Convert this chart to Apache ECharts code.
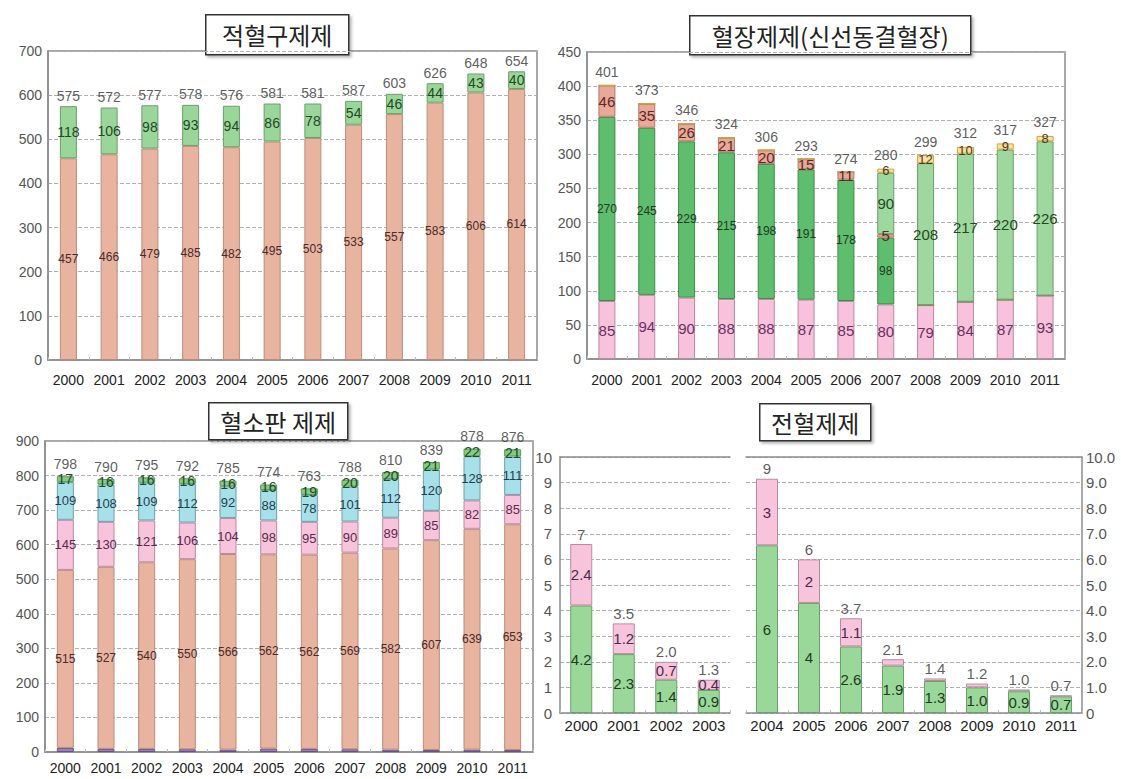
<!DOCTYPE html>
<html><head><meta charset="utf-8">
<script src="https://cdn.jsdelivr.net/npm/echarts@6/dist/echarts.min.js"></script>
<style>html,body{margin:0;padding:0;background:#fff}#c{width:1121px;height:779px}</style>
</head><body><div id="c"></div>
<script>
// ---------- DATA ----------
const years = ['2000','2001','2002','2003','2004','2005','2006','2007','2008','2009','2010','2011'];

// 적혈구제제
const rbcLower = [457,466,479,485,482,495,503,533,557,583,606,614];
const rbcUpper = [118,106,98,93,94,86,78,54,46,44,43,40];
const rbcTotals = ['575','572','577','578','576','581','581','587','603','626','648','654'];

// 혈장제제(신선동결혈장)
const ffpPink   = [85,94,90,88,88,87,85,80,79,84,87,93];
const ffpDark   = [270,245,229,215,198,191,178,98,0,0,0,0];
const ffpSalmon = [46,35,26,21,20,15,11,5,0,0,0,0];
const ffpLight  = [0,0,0,0,0,0,0,90,208,217,220,226];
const ffpYellow = [0,0,0,0,0,0,0,6,12,10,9,8];
const ffpTotals = ['401','373','346','324','306','293','274','280','299','312','317','327'];

// 혈소판 제제
const pltPurple = [12,9,9,8,7,10,9,8,7,6,7,6];
const pltSalmon = [515,527,540,550,566,562,562,569,582,607,639,653];
const pltPink   = [145,130,121,106,104,98,95,90,89,85,82,85];
const pltCyan   = [109,108,109,112,92,88,78,101,112,120,128,111];
const pltGreen  = [17,16,16,16,16,16,19,20,20,21,22,21];
const pltTotals = ['798','790','795','792','785','774','763','788','810','839','878','876'];

// 전혈제제
const wbGreen = [4.2,2.3,1.3,0.9,6.55,4.3,2.6,1.85,1.25,1.0,0.85,0.65];
const wbPink  = [2.4,1.2,0.7,0.4,2.6,1.7,1.1,0.25,0.1,0.15,0.07,0.03];
const wbGreenLabels = ['4.2','2.3','1.4','0.9','6','4','2.6','1.9','1.3','1.0','0.9','0.7'];
const wbPinkLabels  = ['2.4','1.2','0.7','0.4','3','2','1.1','','','','',''];
const wbTotals = ['7','3.5','2.0','1.3','9','6','3.7','2.1','1.4','1.2','1.0','0.7'];
const wbSplit = 4;

// ---------- CHART ----------
const FONT = 'Liberation Sans, Arial, sans-serif';
const NARROW = 'Liberation Sans Narrow, Liberation Sans, Arial, sans-serif';
const KR = 'Noto Sans CJK KR, sans-serif';
const chart = echarts.init(document.getElementById('c'), null, {renderer:'svg'});

function sumAt(arrs, i){ return arrs.reduce((s,a)=>s+a[i],0); }

function bar(name, data, xi, stack, color, border, lab, bw){
  return {
    type:'bar', name, data, xAxisIndex:xi, yAxisIndex:xi, stack, barWidth:bw||17,
    itemStyle:{color, borderColor:border, borderWidth:1},
    label: lab ? {
      show:true, position:'inside', fontFamily: lab.family||FONT,
      fontSize: lab.size, color: lab.color,
      formatter: p => lab.texts ? lab.texts[p.dataIndex] : (p.value ? String(p.value) : '')
    } : {show:false},
    emphasis:{disabled:true}, silent:true, animation:false
  };
}
function totals(arrs, labels, xi, size, dist){
  return {
    type:'scatter', xAxisIndex:xi, yAxisIndex:xi, symbolSize:1,
    itemStyle:{color:'rgba(0,0,0,0)'},
    data: arrs[0].map((_,i)=>sumAt(arrs,i)),
    label:{show:true, position:'top', distance:dist||3, fontFamily:FONT, fontSize:size||14, color:'#333',
      formatter:p=>labels[p.dataIndex]},
    silent:true, animation:false, z:5
  };
}

const gridLine = {show:true, lineStyle:{type:'dashed', color:'#b0b0b0', width:1}};
function yAx(gi, max, interval, extra){
  return Object.assign({
    type:'value', gridIndex:gi, min:0, max, interval,
    axisLine:{show:true, lineStyle:{color:'#8c8c8c', width:1.5}},
    axisTick:{show:false},
    axisLabel:{fontFamily:FONT, fontSize:14, color:'#555', margin:6},
    splitLine:gridLine
  }, extra||{});
}
function xAx(gi, data, margin, extra){
  return Object.assign({
    type:'category', gridIndex:gi, data,
    axisLine:{show:true, lineStyle:{color:'#8c8c8c', width:1.5}},
    axisTick:{show:true, inside:true, length:3, lineStyle:{color:'#bbb'}},
    axisLabel:{fontFamily:FONT, fontSize:14, color:'#222', margin, interval:0},
    splitLine:{show:false}
  }, extra||{});
}
function topLine(gi, n){
  return {type:'category', gridIndex:gi, position:'top', data:new Array(n).fill(''),
    axisLine:{show:true, lineStyle:{color:'#8c8c8c', width:1.5}},
    axisTick:{show:false}, axisLabel:{show:false}, splitLine:{show:false}};
}

const yrsL = years.slice(0, wbSplit), yrsR = years.slice(wbSplit);
const gL = wbGreen.slice(0,wbSplit), gR = wbGreen.slice(wbSplit);
const pL = wbPink.slice(0,wbSplit), pR = wbPink.slice(wbSplit);

function titleBox(x, y, w, h, text){
  return {type:'group', left:x, top:y, z:100, children:[
    {type:'rect', shape:{x:0,y:0,width:w,height:h},
     style:{fill:'#fff', stroke:'#333', lineWidth:1.5, shadowBlur:3, shadowOffsetX:2, shadowOffsetY:2, shadowColor:'rgba(0,0,0,0.3)'}},
    {type:'text', x:w/2, y:h/2, style:{text, fill:'#222', font:'24px '+KR, textAlign:'center', textVerticalAlign:'middle'}}
  ]};
}

const borderGrid = {show:true, borderColor:'#8c8c8c', borderWidth:1.5, backgroundColor:'transparent'};

const option = {
  backgroundColor:'#fff',
  animation:false,
  grid:[
    Object.assign({left:48, top:51, width:489, height:309}, borderGrid),
    Object.assign({left:587, top:52, width:478, height:307}, borderGrid),
    Object.assign({left:45, top:441, width:488, height:311}, borderGrid),
    {left:560, top:457, width:170, height:256},
    {left:746, top:457, width:336, height:256}
  ],
  xAxis:[
    xAx(0, years, 13),
    xAx(1, years, 14),
    xAx(2, years, 9),
    xAx(3, yrsL, 5, {axisLabel:{fontFamily:FONT, fontSize:15, color:'#222', margin:5, interval:0}}),
    xAx(4, yrsR, 5, {axisLabel:{fontFamily:FONT, fontSize:15, color:'#222', margin:5, interval:0}}),
    topLine(3, yrsL.length),
    topLine(4, yrsR.length)
  ],
  yAxis:[
    yAx(0, 700, 100),
    yAx(1, 450, 50),
    yAx(2, 900, 100),
    yAx(3, 10, 1, {axisLabel:{fontFamily:FONT, fontSize:15, color:'#555', margin:8}}),
    yAx(4, 10, 1, {position:'right',
      axisLabel:{fontFamily:FONT, fontSize:15, color:'#555', margin:4, formatter:v=>v===0?'0':v.toFixed(1)}})
  ],
  series:[
    // Panel 1
    bar('rbcLower', rbcLower, 0, 'a', '#e8b4a0', '#b88c7c', {size:12, color:'#4a2a2a', family:NARROW}),
    bar('rbcUpper', rbcUpper, 0, 'a', '#9ad69a', '#6a9e6a', {size:14, color:'#1f4a1f'}),
    totals([rbcLower, rbcUpper], rbcTotals, 0, 14, 3),
    // Panel 2
    bar('ffpPink', ffpPink, 1, 'b', '#f8c2dc', '#b88aa0', {size:15, color:'#6a3060'}),
    bar('ffpDark', ffpDark, 1, 'b', '#5fbe6d', '#3e8a4a', {size:12, color:'#1f3a1f', family:NARROW}),
    bar('ffpSalmon', ffpSalmon, 1, 'b', '#eaa898', '#b07868', {size:15, color:'#5a2a2a'}),
    bar('ffpLight', ffpLight, 1, 'b', '#9ed89e', '#6a9e6a', {size:15, color:'#1f4a1f',
      texts: ffpLight.map(v=>v ? String(v) : '')}),
    bar('ffpYellow', ffpYellow, 1, 'b', '#f8e2a0', '#d8a040', {size:13, color:'#4a3a1a'}),
    totals([ffpPink, ffpDark, ffpSalmon, ffpLight, ffpYellow], ffpTotals, 1, 14, 6),
    // Panel 3
    bar('pltPurple', pltPurple, 2, 'c', '#9a80b8', '#6a5088', null),
    bar('pltSalmon', pltSalmon, 2, 'c', '#e8b4a0', '#b88c7c', {size:12, color:'#4a2a2a', family:NARROW}),
    bar('pltPink', pltPink, 2, 'c', '#f8c4dc', '#b88aa0', {size:13, color:'#5a2a50', family:NARROW}),
    bar('pltCyan', pltCyan, 2, 'c', '#a8e0ea', '#6aa0aa', {size:13, color:'#1f3f4a', family:NARROW}),
    bar('pltGreen', pltGreen, 2, 'c', '#84cc84', '#5a9a5a', {size:14, color:'#1f4a1f'}),
    totals([pltPurple, pltSalmon, pltPink, pltCyan, pltGreen], pltTotals, 2, 14, 5),
    // Panel 4 left
    bar('wbGreenL', gL, 3, 'd', '#9ad89a', '#6a9e6a', {size:15, color:'#1f3a1f', texts:wbGreenLabels.slice(0,wbSplit)}, 22),
    bar('wbPinkL', pL, 3, 'd', '#f8c4dc', '#b88aa0', {size:15, color:'#4a2a4a', texts:wbPinkLabels.slice(0,wbSplit)}, 22),
    totals([gL, pL], wbTotals.slice(0,wbSplit), 3, 15, 2),
    // Panel 4 right
    bar('wbGreenR', gR, 4, 'e', '#9ad89a', '#6a9e6a', {size:15, color:'#1f3a1f', texts:wbGreenLabels.slice(wbSplit)}, 22),
    bar('wbPinkR', pR, 4, 'e', '#f8c4dc', '#b88aa0', {size:15, color:'#4a2a4a', texts:wbPinkLabels.slice(wbSplit)}, 22),
    totals([gR, pR], wbTotals.slice(wbSplit), 4, 15, 2)
  ],
  graphic:[
    titleBox(205, 14, 143, 40, '적혈구제제'),
    titleBox(689, 15, 281, 39, '혈장제제(신선동결혈장)'),
    titleBox(208, 402, 139, 37, '혈소판 제제'),
    titleBox(759, 403, 111, 37, '전혈제제')
  ]
};
chart.setOption(option);
</script>
</body></html>
